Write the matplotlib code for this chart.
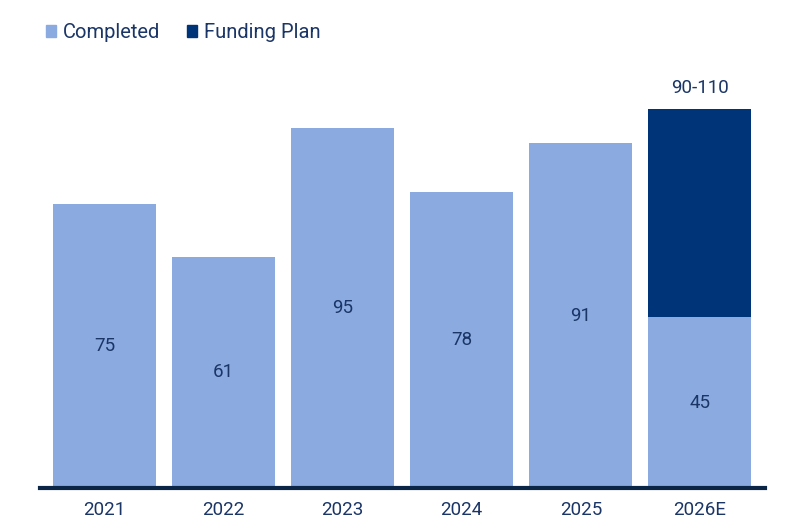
import matplotlib.pyplot as plt
from matplotlib.patches import Patch

years = ['2021', '2022', '2023', '2024', '2025', '2026E']
completed = [75, 61, 95, 78, 91, 45]
plan = [0, 0, 0, 0, 0, 55]
plan_label = '90-110'

light = '#8aaae0'
dark = '#003478'
txt = '#1a3566'

plt.rcParams['font.family'] = ['Roboto', 'DejaVu Sans']

fig = plt.figure(figsize=(8, 5.3), dpi=100)
ax = fig.add_axes([0.05, 0.0792, 0.906, 0.808])

x = list(range(len(years)))
ax.bar(x, completed, width=0.866, color=light, zorder=2)
ax.bar(x, plan, width=0.866, bottom=completed, color=dark, zorder=2)

for i, v in enumerate(completed):
    ax.text(i, v / 2, str(v), ha='center', va='center', fontsize=13.5, color=txt)
ax.text(5, completed[5] + plan[5] + 3.3, plan_label, ha='center', va='bottom',
        fontsize=13.5, color=txt)

ax.set_xlim(-0.54, 5.545)
ax.set_ylim(0, 113)
ax.set_yticks([])
ax.set_xticks(x)
ax.set_xticklabels(years, fontsize=13.5, color=txt)
ax.tick_params(axis='x', length=0, pad=9)
for s in ['top', 'right', 'left']:
    ax.spines[s].set_visible(False)
ax.spines['bottom'].set_color('#0b2547')
ax.spines['bottom'].set_linewidth(3)
ax.spines['bottom'].set_zorder(3)

handles = [Patch(color=light, label='Completed'), Patch(color=dark, label='Funding Plan')]
leg = fig.legend(handles=handles, loc='upper left', bbox_to_anchor=(0.057, 0.957), ncol=2,
                 frameon=False, handlelength=0.52, handleheight=0.52, handletextpad=0.35,
                 columnspacing=1.3, fontsize=14.5, borderpad=0, borderaxespad=0)
for t in leg.get_texts():
    t.set_color(txt)

fig.savefig('out.png', dpi=100)
